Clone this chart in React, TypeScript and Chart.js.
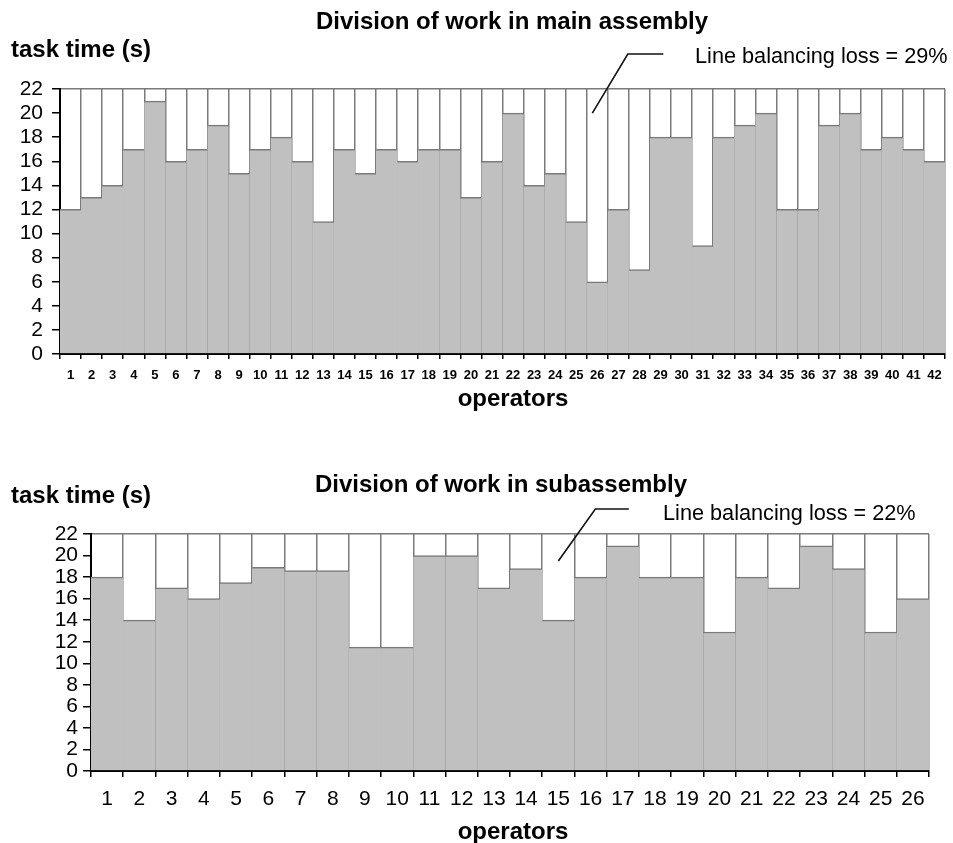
import React, { useEffect, useRef } from 'react';
import { Chart, registerables } from 'chart.js';

Chart.register(...registerables);

// ---------- data ----------
const mainOperators = ['1','2','3','4','5','6','7','8','9','10','11','12','13','14','15','16','17','18','19','20','21','22','23','24','25','26','27','28','29','30','31','32','33','34','35','36','37','38','39','40','41','42'];
const mainTaskTimes = [12,13,14,17,21,16,17,19,15,17,18,16,11,17,15,17,16,17,17,13,16,20,14,15,11,6,12,7,18,18,9,18,19,20,12,12,19,20,17,18,17,16];

const subOperators = ['1','2','3','4','5','6','7','8','9','10','11','12','13','14','15','16','17','18','19','20','21','22','23','24','25','26'];
const subTaskTimes = [18,14,17,16,17.5,18.9,18.6,18.6,11.5,11.5,20,20,17,18.8,14,18,20.9,18,18,12.9,18,17,20.9,18.8,12.9,16];

const yTickValues = [0,2,4,6,8,10,12,14,16,18,20,22];
const CYCLE_TIME = 22;

const mainTitle = 'Division of work in main assembly';
const subTitle = 'Division of work in subassembly';
const mainLoss = 'Line balancing loss = 29%';
const subLoss = 'Line balancing loss = 22%';

const FONT = '"Liberation Sans", Arial, Helvetica, sans-serif';
const LINE_GREY = '#7a7a7a';

type PanelCfg = {
  title: string; titleX: number; titleY: number;
  yTitleX: number; yTitleY: number;
  xTitleX: number; xTitleY: number;
  lossText: string; lossX: number; lossY: number; lossSize: number;
  arrowIndex: number; arrowValue: number; arrowDx: number;
  elbowDx: number; elbowUp: number; endDx: number;
};

function makeAnnotPlugin(cfg: PanelCfg) {
  return {
    id: 'panelText',
    afterDraw(chart: any) {
      const ctx = chart.ctx;
      ctx.save();
      ctx.fillStyle = '#000';
      ctx.textBaseline = 'alphabetic';
      ctx.font = `bold 24px ${FONT}`;
      ctx.textAlign = 'center';
      ctx.fillText(cfg.title, cfg.titleX, cfg.titleY);
      ctx.fillText('operators', cfg.xTitleX, cfg.xTitleY);
      ctx.textAlign = 'left';
      ctx.fillText('task time (s)', cfg.yTitleX, cfg.yTitleY);
      ctx.font = `${cfg.lossSize}px ${FONT}`;
      ctx.fillText(cfg.lossText, cfg.lossX, cfg.lossY);
      // leader line
      const xs = chart.scales.x;
      const ys = chart.scales.y;
      const tipX = xs.getPixelForValue(cfg.arrowIndex) + cfg.arrowDx;
      const tipY = ys.getPixelForValue(cfg.arrowValue);
      const elbowX = tipX + cfg.elbowDx;
      const elbowY = chart.chartArea.top - cfg.elbowUp;
      ctx.strokeStyle = '#111';
      ctx.lineWidth = 1.6;
      ctx.beginPath();
      ctx.moveTo(tipX, tipY);
      ctx.lineTo(elbowX, elbowY);
      ctx.lineTo(elbowX + cfg.endDx, elbowY);
      ctx.stroke();
      ctx.restore();
    },
  };
}

type ChartSpec = {
  labels: string[];
  values: number[];
  width: number; height: number;
  areaLeft: number; areaTop: number; areaRight: number; areaBottom: number;
  xFontSize: number; xFontWeight: string; xTickLen: number; xPad: number;
  yFontSize: number; yTickLen: number; yPad: number;
  cfg: PanelCfg;
};

function BarPanel({ spec, top }: { spec: ChartSpec; top: number }) {
  const ref = useRef<HTMLCanvasElement | null>(null);
  useEffect(() => {
    if (!ref.current) return;
    const s = spec;
    const chart = new Chart(ref.current, {
      type: 'bar',
      data: {
        labels: s.labels,
        datasets: [
          {
            label: 'task time',
            data: s.values,
            backgroundColor: '#c0c0c0',
            borderColor: LINE_GREY,
            borderWidth: { top: 1.5, left: 0, right: 0, bottom: 0 },
            borderSkipped: false,
            barPercentage: 1,
            categoryPercentage: 1,
          },
        ],
      },
      options: {
        responsive: false,
        animation: false,
        devicePixelRatio: 1,
        layout: {
          padding: { left: 0, top: s.areaTop, right: s.width - s.areaRight, bottom: 0 },
        },
        plugins: {
          legend: { display: false },
          tooltip: { enabled: false },
          title: { display: false },
        },
        scales: {
          x: {
            type: 'category',
            offset: true,
            z: 1,
            grid: {
              display: true,
              offset: true,
              drawOnChartArea: true,
              drawTicks: true,
              tickLength: s.xTickLen,
              color: LINE_GREY,
              lineWidth: 1.5,
              tickColor: '#000000',
              tickWidth: 1.5,
            },
            border: { display: true, color: '#000000', width: 2 },
            ticks: {
              autoSkip: false,
              maxRotation: 0,
              minRotation: 0,
              padding: s.xPad,
              color: '#000000',
              font: { family: FONT, size: s.xFontSize, weight: s.xFontWeight as any },
            },
            afterFit: (scale: any) => { scale.height = s.height - s.areaBottom; },
          },
          y: {
            type: 'linear',
            min: 0,
            max: CYCLE_TIME,
            z: 1,
            afterBuildTicks: (scale: any) => {
              scale.ticks = yTickValues.map((v) => ({ value: v }));
            },
            grid: {
              display: true,
              drawOnChartArea: true,
              drawTicks: true,
              tickLength: s.yTickLen,
              color: (c: any) => (c.tick && c.tick.value === CYCLE_TIME ? LINE_GREY : 'rgba(0,0,0,0)'),
              lineWidth: 1.5,
              tickColor: '#000000',
              tickWidth: 1.5,
            },
            border: { display: true, color: '#000000', width: 2 },
            ticks: {
              autoSkip: false,
              padding: s.yPad,
              color: '#000000',
              font: { family: FONT, size: s.yFontSize },
            },
            afterFit: (scale: any) => { scale.width = s.areaLeft; },
          },
        },
      },
      plugins: [makeAnnotPlugin(s.cfg)],
    } as any);
    return () => chart.destroy();
  }, [spec]);
  return (
    <canvas
      ref={ref}
      width={spec.width}
      height={spec.height}
      style={{ position: 'absolute', left: 0, top, width: spec.width, height: spec.height, display: 'block' }}
    />
  );
}

const mainSpec: ChartSpec = {
  labels: mainOperators,
  values: mainTaskTimes,
  width: 953, height: 430,
  areaLeft: 60, areaTop: 89, areaRight: 945, areaBottom: 354,
  xFontSize: 13, xFontWeight: 'bold', xTickLen: 5, xPad: 9,
  yFontSize: 21, yTickLen: 8, yPad: 9,
  cfg: {
    title: mainTitle, titleX: 512, titleY: 29,
    yTitleX: 11, yTitleY: 57,
    xTitleX: 513, xTitleY: 406,
    lossText: mainLoss, lossX: 695, lossY: 63, lossSize: 21.7,
    arrowIndex: 25, arrowValue: 20, arrowDx: -5,
    elbowDx: 35.5, elbowUp: 35, endDx: 35.5,
  },
};

const subSpec: ChartSpec = {
  labels: subOperators,
  values: subTaskTimes,
  width: 953, height: 413,
  areaLeft: 91, areaTop: 104, areaRight: 929, areaBottom: 341,
  xFontSize: 21, xFontWeight: 'normal', xTickLen: 6, xPad: 10,
  yFontSize: 21, yTickLen: 8, yPad: 5,
  cfg: {
    title: subTitle, titleX: 501, titleY: 62,
    yTitleX: 11, yTitleY: 73,
    xTitleX: 513, xTitleY: 409,
    lossText: subLoss, lossX: 663, lossY: 90, lossSize: 21.7,
    arrowIndex: 14, arrowValue: 19.5, arrowDx: 0,
    elbowDx: 37, elbowUp: 25, endDx: 33.5,
  },
};

export default function App() {
  return (
    <div style={{ position: 'absolute', left: 0, top: 0, width: 953, height: 843, background: '#ffffff', overflow: 'hidden' }}>
      <BarPanel spec={mainSpec} top={0} />
      <BarPanel spec={subSpec} top={430} />
    </div>
  );
}
